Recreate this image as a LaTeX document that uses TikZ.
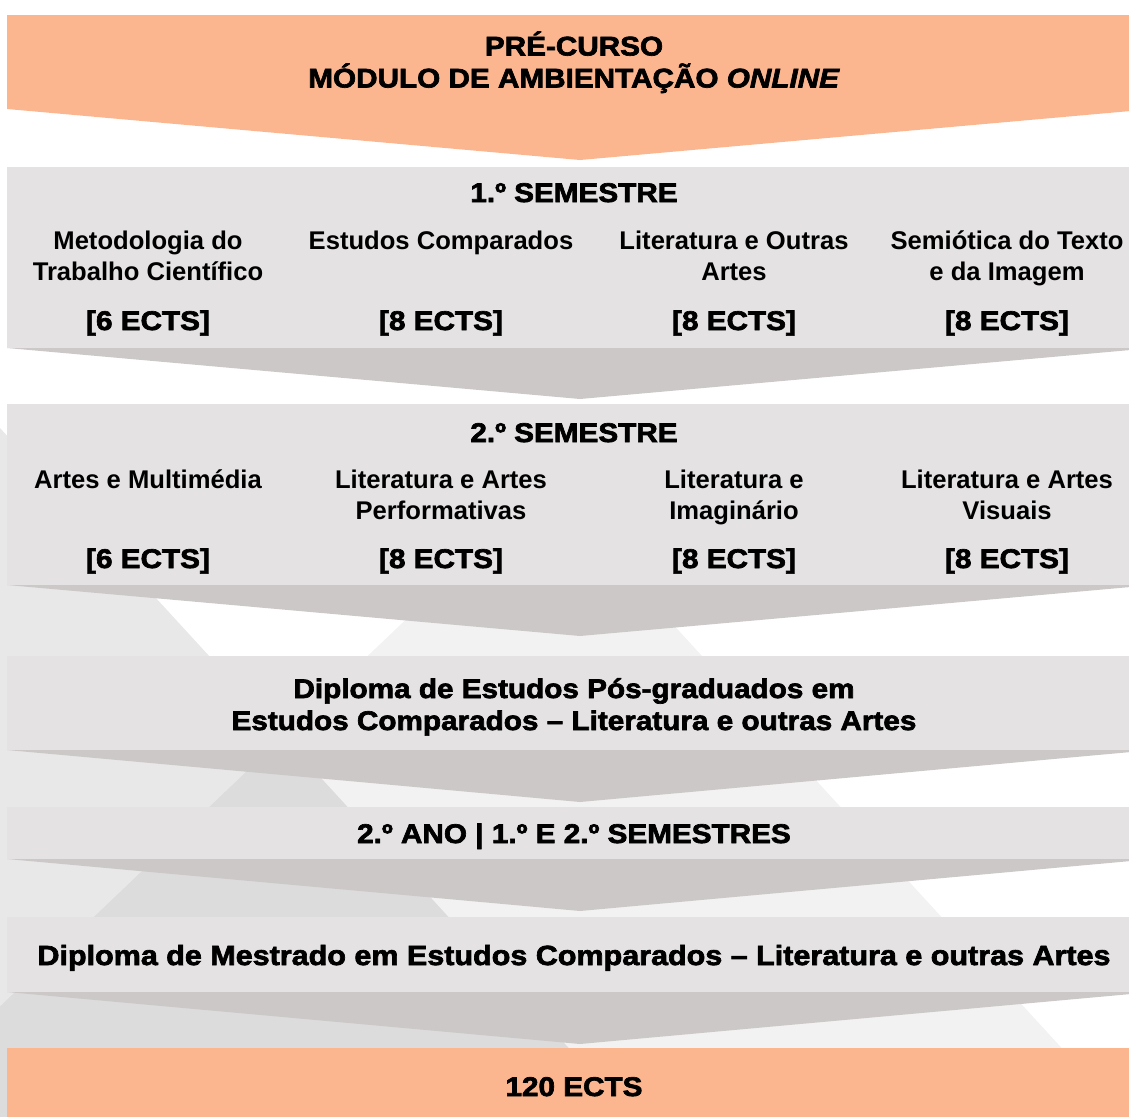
\documentclass[tikz,border=0pt]{standalone}
\usepackage{fontspec}
\setmainfont{Liberation Sans}
\newfontfamily\heavyfont{Liberation Sans}[FakeBold=2.5,FakeStretch=1.1]
\usepackage{tikz}
\usepackage{color}
\definecolor{apricot}{RGB}{251, 182, 144}
\definecolor{silver}{RGB}{228, 226, 226}
\definecolor{ash}{RGB}{204, 200, 199}
\tikzset{
  heading/.style={anchor=base, align=center, inner sep=0pt,
    font=\heavyfont\bfseries\fontsize{20.25}{24}\selectfont},
  course/.style={anchor=base, align=center, inner sep=0pt,
    font=\bfseries\fontsize{19.2}{23.25}\selectfont},
}

\begin{document}
\begin{tikzpicture}[x=0.75pt, y=-0.75pt]
            \clip                                                         (0, 0) rectangle (1129, 1117);
            \fill[white]                                                  (0, 0) rectangle (1129, 1117);
            % faint triangles behind the bands
            \fill[black, fill opacity=0.05]                               (546, 486) -- (1125, 1117) -- (-116, 1117) -- cycle;
            \fill[black, fill opacity=0.09]                               (0, 428) -- (632, 1117) -- (0, 1117) -- cycle;
            % bands
            \fill[apricot] (7,   15) -- (1153,   15) -- (1153,  109) -- (580,  160) -- (7,  109) -- cycle;
            \fill[silver]  (7,  167) rectangle (1153,  348);
            \fill[ash]     (7,  348) -- (1153,  348) -- (580,  399) -- cycle;
            \fill[silver]  (7,  404) rectangle (1153,  585);
            \fill[ash]     (7,  585) -- (1153,  585) -- (580,  636) -- cycle;
            \fill[silver]  (7,  656) rectangle (1153,  750);
            \fill[ash]     (7,  750) -- (1153,  750) -- (580,  802) -- cycle;
            \fill[silver]  (7,  807) rectangle (1153,  859);
            \fill[ash]     (7,  859) -- (1153,  859) -- (580,  911) -- cycle;
            \fill[silver]  (7,  917) rectangle (1153,  992);
            \fill[ash]     (7,  992) -- (1153,  992) -- (580, 1044) -- cycle;
            \fill[apricot] (7, 1048) rectangle (1153, 1130);
            % texts (base = baseline of the last line)
            \node[heading] (precurso)    at ( 574,  87.5) {PRÉ-CURSO\\MÓDULO DE AMBIENTAÇÃO \textit{ONLINE}};
            \node[heading] (semestre1)   at ( 574,   202) {1.º SEMESTRE};
            \node[course]  (metodologia) at ( 148,   280) {Metodologia do\\Trabalho Científico};
            \node[course]  (estudos)     at ( 441,   249) {Estudos Comparados};
            \node[course]  (outras)      at ( 734,   280) {Literatura e Outras\\Artes};
            \node[course]  (semiotica)   at (1007,   280) {Semiótica do Texto\\e da Imagem};
            \node[heading] (ectsA)       at ( 148,   330) {[6 ECTS]};
            \node[heading] (ectsB)       at ( 441,   330) {[8 ECTS]};
            \node[heading] (ectsC)       at ( 734,   330) {[8 ECTS]};
            \node[heading] (ectsD)       at (1007,   330) {[8 ECTS]};
            \node[heading] (semestre2)   at ( 574,   442) {2.º SEMESTRE};
            \node[course]  (multimedia)  at ( 148,   488) {Artes e Multimédia};
            \node[course]  (performat)   at ( 441,   519) {Literatura e Artes\\Performativas};
            \node[course]  (imaginario)  at ( 734,   519) {Literatura e\\Imaginário};
            \node[course]  (visuais)     at (1007,   519) {Literatura e Artes\\Visuais};
            \node[heading] (ectsE)       at ( 148,   568) {[6 ECTS]};
            \node[heading] (ectsF)       at ( 441,   568) {[8 ECTS]};
            \node[heading] (ectsG)       at ( 734,   568) {[8 ECTS]};
            \node[heading] (ectsH)       at (1007,   568) {[8 ECTS]};
            \node[heading] (posgrad)     at ( 574,   730) {Diploma de Estudos Pós-graduados em\\Estudos Comparados – Literatura e outras Artes};
            \node[heading] (anodois)     at ( 574,   843) {2.º ANO | 1.º E 2.º SEMESTRES};
            \node[heading, font=\heavyfont\bfseries\fontsize{20.8}{24}\selectfont]
                           (mestrado)    at ( 574,   965) {Diploma de Mestrado em Estudos Comparados – Literatura e outras Artes};
            \node[heading] (total)       at ( 574,  1096) {120 ECTS};
        \end{tikzpicture}
\end{document}
